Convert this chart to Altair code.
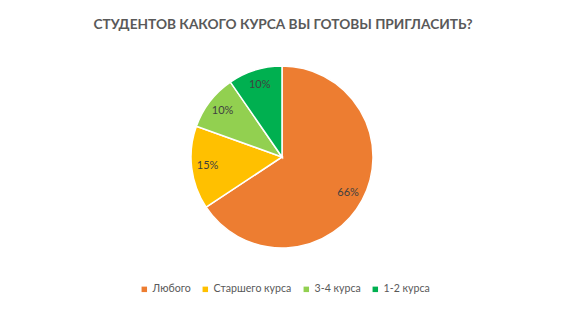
import altair as alt
import pandas as pd

categories = ["Любого", "Старшего курса", "3-4 курса", "1-2 курса"]
values = [65.7, 14.8, 9.9, 9.6]
colors = ["#ED7D31", "#FFC000", "#92D050", "#00B050"]
title_text = "СТУДЕНТОВ КАКОГО КУРСА ВЫ ГОТОВЫ ПРИГЛАСИТЬ?"

df = pd.DataFrame({
    "cat": categories,
    "value": values,
    "order": list(range(len(categories))),
    "label": [f"{round(v):d}%" for v in values],
})

CX, CY, R = 282, 157, 91

base = alt.Chart(df).encode(
    theta=alt.Theta("value:Q", stack=True),
    order=alt.Order("order:Q"),
)

arcs = base.mark_arc(outerRadius=R, stroke="white", strokeWidth=1.5).encode(
    x=alt.value(CX), y=alt.value(CY),
    color=alt.Color(
        "cat:N",
        scale=alt.Scale(domain=categories, range=colors),
        sort=categories,
        legend=alt.Legend(
            title=None, orient="none", legendX=139, legendY=284,
            direction="horizontal", symbolType="square", symbolSize=30,
            symbolStrokeWidth=0, labelFont="Lato", labelFontSize=10.6,
            labelColor="#595959", labelOffset=3, columnPadding=9,
        ),
    ),
)

labels = base.mark_text(radius=75, font="Lato", fontSize=11, color="#404040").encode(
    x=alt.value(CX), y=alt.value(CY),
    text="label:N",
)

title = alt.Chart(pd.DataFrame({"t": [title_text]})).mark_text(
    font="Lato", fontSize=13.7, fontWeight="bold", color="#595959",
    align="center", baseline="alphabetic",
).encode(text="t:N", x=alt.value(283), y=alt.value(29))

chart = alt.layer(arcs, labels, title).properties(
    width=567, height=316,
    autosize=alt.AutoSizeParams(type="none"),
    padding=0,
).configure_view(stroke=None)

chart.save("out.html", embed_options={"renderer": "svg", "actions": False})
